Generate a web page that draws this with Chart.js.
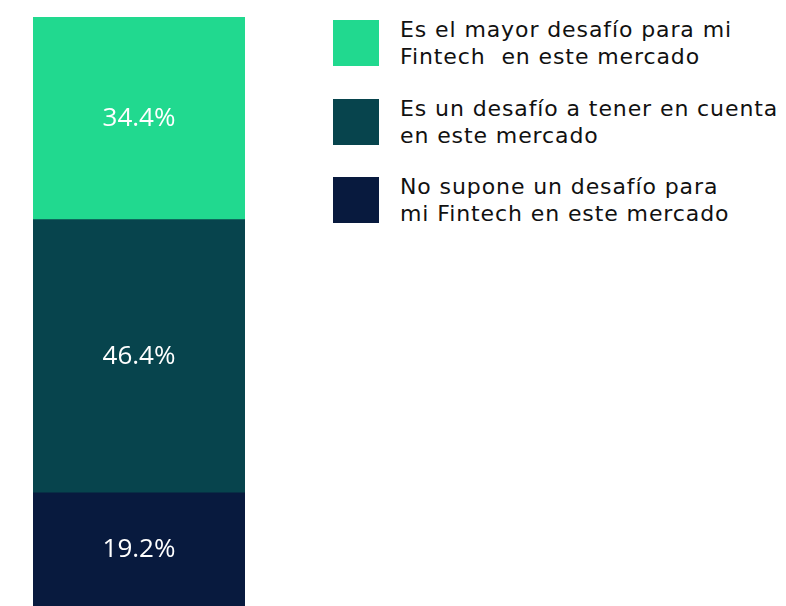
<!DOCTYPE html>
<html>
<head>
<meta charset="utf-8">
<script src="https://cdn.jsdelivr.net/npm/chart.js@4"></script>
<style>
  html, body { margin: 0; padding: 0; background: #ffffff; }
  body { width: 786px; height: 606px; position: relative; overflow: hidden; }
  #barBox { position: absolute; left: 33px; top: 17px; width: 212px; height: 589px; }
  #legend { position: absolute; left: 333px; top: 20px; font-family: 'DejaVu Sans', sans-serif; }
  .item { display: flex; align-items: flex-start; height: 78.5px; }
  .swatch { width: 46px; height: 46px; flex: none; }
  .text { margin-left: 21px; font-size: 22px; letter-spacing: 0.9px; line-height: 27px; color: #111111; margin-top: -4px; white-space: pre; }
</style>
</head>
<body>
<div id="barBox"><canvas id="stackChart"></canvas></div>
<div id="legend"></div>
<script>
// Series, bottom of the stack first
const categories = ['Total'];
const seriesNames = [
  'No supone un desafío para\nmi Fintech en este mercado',
  'Es un desafío a tener en cuenta\nen este mercado',
  'Es el mayor desafío para mi\nFintech  en este mercado'
];
const seriesValues = [19.2, 46.4, 34.4];
const seriesColors = ['#081a3e', '#07444d', '#21d98f'];

// Legend (top to bottom is the reverse of the stack)
const legendEl = document.getElementById('legend');
for (let i = seriesNames.length - 1; i >= 0; i--) {
  const item = document.createElement('div');
  item.className = 'item';
  const sw = document.createElement('div');
  sw.className = 'swatch';
  sw.style.background = seriesColors[i];
  const tx = document.createElement('div');
  tx.className = 'text';
  tx.textContent = seriesNames[i];
  item.appendChild(sw);
  item.appendChild(tx);
  legendEl.appendChild(item);
}

// Percent labels centred in each segment
const segmentLabels = {
  id: 'segmentLabels',
  afterDatasetsDraw(chart) {
    const ctx = chart.ctx;
    ctx.save();
    ctx.fillStyle = '#ffffff';
    ctx.font = "26px 'Open Sans', sans-serif";
    ctx.textAlign = 'center';
    ctx.textBaseline = 'middle';
    chart.data.datasets.forEach((ds, i) => {
      chart.getDatasetMeta(i).data.forEach((bar, j) => {
        const mid = (bar.y + bar.base) / 2;
        ctx.fillText(ds.data[j].toFixed(1) + '%', bar.x, mid);
      });
    });
    ctx.restore();
  }
};

new Chart(document.getElementById('stackChart'), {
  type: 'bar',
  data: {
    labels: categories,
    datasets: seriesNames.map((name, i) => ({
      label: name,
      data: [seriesValues[i]],
      backgroundColor: seriesColors[i],
      borderWidth: 0,
      barPercentage: 1,
      categoryPercentage: 1
    }))
  },
  options: {
    responsive: true,
    maintainAspectRatio: false,
    animation: false,
    layout: { padding: 0 },
    plugins: {
      legend: { display: false },
      tooltip: { enabled: false }
    },
    scales: {
      x: { stacked: true, display: false },
      y: { stacked: true, display: false, min: 0, max: 100 }
    }
  },
  plugins: [segmentLabels]
});
</script>
</body>
</html>
